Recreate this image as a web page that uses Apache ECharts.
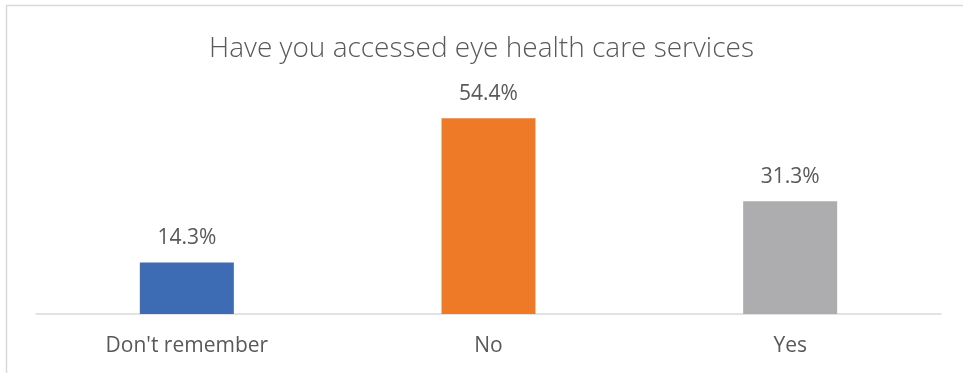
<!DOCTYPE html>
<html>
<head>
<meta charset="utf-8">
<script src="https://cdn.jsdelivr.net/npm/echarts@6/dist/echarts.min.js"></script>
<style>
  html, body { margin: 0; padding: 0; background: #ffffff; }
  #chart { width: 963px; height: 373px; }
</style>
</head>
<body>
<div id="chart"></div>
<script>
// Survey answers and their shares (%)
const categories = ["Don't remember", "No", "Yes"];
const shares = [14.3, 54.4, 31.3];
const barColors = ['#3d6cb5', '#ee7a27', '#adadb0'];

const chart = echarts.init(document.getElementById('chart'), null, { renderer: 'canvas' });

chart.setOption({
  backgroundColor: '#ffffff',
  animation: false,
  title: {
    text: 'Have you accessed eye health care services',
    left: 'center',
    top: 30,
    textStyle: {
      fontFamily: 'Open Sans',
      fontWeight: 300,
      fontSize: 28,
      color: '#595959'
    }
  },
  graphic: [
    {
      // frame along the top and left edges
      type: 'polyline',
      shape: { points: [[6.5, 400], [6.5, 5.5], [970, 5.5]] },
      style: { stroke: '#d9d9d9', lineWidth: 1.5, fill: null },
      silent: true
    }
  ],
  grid: { left: 36, right: 22, top: 98, bottom: 59 },
  xAxis: {
    type: 'category',
    data: categories,
    axisLine: { show: true, lineStyle: { color: '#d9d9d9', width: 1.5 } },
    axisTick: { show: false },
    axisLabel: {
      margin: 22,
      fontFamily: 'Open Sans',
      fontSize: 21,
      color: '#595959'
    }
  },
  yAxis: {
    type: 'value',
    min: 0,
    max: 60,
    show: false,
    splitLine: { show: false }
  },
  series: [
    {
      type: 'bar',
      barWidth: 94,
      data: shares.map((v, i) => ({ value: v, itemStyle: { color: barColors[i] } })),
      label: {
        show: true,
        position: 'top',
        distance: 14,
        formatter: (p) => p.value.toFixed(1) + '%',
        fontFamily: 'Open Sans',
        fontSize: 21,
        color: '#595959'
      }
    }
  ]
});
</script>
</body>
</html>
